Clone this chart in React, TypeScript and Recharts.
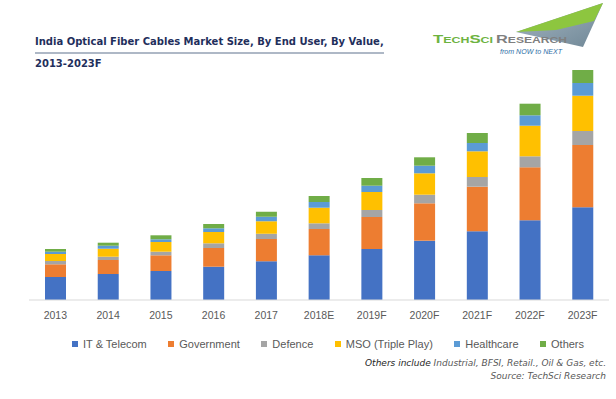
import { BarChart, Bar, XAxis, YAxis } from 'recharts';

// values (no value axis is shown, units are relative)
const years = ['2013', '2014', '2015', '2016', '2017', '2018E', '2019F', '2020F', '2021F', '2022F', '2023F'];
const itTelecom = [23, 26, 29, 33.3, 38.7, 44.7, 51, 59.3, 68.7, 79.7, 92.7];
const government = [12.7, 14, 15.7, 18.7, 22.3, 26.3, 32, 37.4, 44.6, 53, 62.3];
const defence = [3.3, 3.3, 3.6, 4.7, 5.3, 5.7, 7, 8.6, 9.7, 11, 14];
const mso = [7, 8, 9.7, 11.3, 12.4, 15.6, 18, 21.4, 25.7, 30.6, 35.3];
const healthcare = [2.3, 3, 2.7, 3.7, 4.6, 5.7, 6.3, 7.6, 8.3, 10.4, 12.7];
const others = [2.7, 3, 4, 4.3, 5, 6, 7.7, 8.4, 10, 11.6, 13];

const series = [
    { key: 'it', name: 'IT & Telecom', values: itTelecom, color: '#4472C4' },
    { key: 'gov', name: 'Government', values: government, color: '#ED7D31' },
    { key: 'def', name: 'Defence', values: defence, color: '#A5A5A5' },
    { key: 'mso', name: 'MSO (Triple Play)', values: mso, color: '#FFC000' },
    { key: 'health', name: 'Healthcare', values: healthcare, color: '#5B9BD5' },
    { key: 'others', name: 'Others', values: others, color: '#70AD47' },
];

const data = years.map((year, i) => {
    const row: Record<string, string | number> = { year };
    series.forEach(s => { row[s.key] = s.values[i]; });
    return row;
});

function Logo() {
    const big = 11.5;
    const small = 8.5;
    return (
        <svg width={616} height={80} style={{ position: 'absolute', left: 0, top: 0 }}>
            <defs>
                <linearGradient id="swoosh" x1="0" y1="0" x2="1" y2="1">
                    <stop offset="0%" stopColor="#a8b8c4" />
                    <stop offset="100%" stopColor="#6f8796" />
                </linearGradient>
            </defs>
            <polygon points="516,32 603,3 583,47" fill="url(#swoosh)" />
            <polygon points="516,32 603,3 594,21 556,30" fill="#8DC63F" />
            <text x={433} y={43} fontFamily="Liberation Sans" fontWeight="bold" fill="#6DB33F"
                textLength={60} lengthAdjust="spacingAndGlyphs">
                <tspan fontSize={big}>T</tspan><tspan fontSize={small}>ECH</tspan>
                <tspan fontSize={big}>S</tspan><tspan fontSize={small}>CI</tspan>
            </text>
            <text x={496} y={43} fontFamily="Liberation Sans" fontWeight="bold" fill="#7F7F7F"
                textLength={71} lengthAdjust="spacingAndGlyphs">
                <tspan fontSize={big}>R</tspan><tspan fontSize={small}>ESEARCH</tspan>
            </text>
            <text x={500} y={54} fontFamily="Liberation Sans" fontStyle="italic" fontSize={7.5}
                fill="#2F6FA8" textLength={62} lengthAdjust="spacingAndGlyphs">from NOW to NEXT</text>
        </svg>
    );
}

export default function App() {
    return (
        <div style={{ position: 'absolute', left: 0, top: 0, width: 616, height: 399, background: '#fff', overflow: 'hidden' }}>
            <div style={{ position: 'absolute', left: 35, top: 36, fontFamily: 'DejaVu Sans', fontWeight: 'bold', fontSize: 10, lineHeight: '12px', color: '#1F2F5C' }}>
                <div style={{ borderBottom: '2px solid #AEB8C6', paddingBottom: 4, display: 'inline-block', whiteSpace: 'nowrap' }}>
                    India Optical Fiber Cables Market Size, By End User, By Value,
                </div>
                <div style={{ marginTop: 4 }}>2013-2023F</div>
            </div>
            <Logo />
            <BarChart width={616} height={330} data={data} margin={{ top: 60, right: 7, left: 29, bottom: 0 }}>
                <YAxis hide domain={[0, 240]} />
                <XAxis dataKey="year" height={30} tickLine={false} tickMargin={6}
                    axisLine={{ stroke: '#D9D9D9' }} interval={0}
                    tick={{ fontSize: 10.5, fill: '#595959', fontFamily: 'Liberation Sans' }} />
                {series.map(s => (
                    <Bar key={s.key} dataKey={s.key} name={s.name} stackId="a" fill={s.color}
                        barSize={21} isAnimationActive={false} />
                ))}
            </BarChart>
            <div style={{ position: 'absolute', left: 72, top: 336, display: 'flex', whiteSpace: 'nowrap', fontFamily: 'Liberation Sans', fontSize: 11, color: '#595959', lineHeight: '16px' }}>
                {series.map(s => (
                    <div key={s.key} style={{ display: 'flex', alignItems: 'center', marginRight: 21.5, flexShrink: 0 }}>
                        <span style={{ width: 6, height: 6, background: s.color, marginRight: 5, display: 'inline-block' }} />
                        {s.name}
                    </div>
                ))}
            </div>
            <div style={{ position: 'absolute', right: 10, top: 357, textAlign: 'right', whiteSpace: 'nowrap', fontFamily: 'DejaVu Sans', fontStyle: 'italic', fontSize: 9, lineHeight: '12.5px', color: '#595959' }}>
                <div><span style={{ color: '#262626' }}>Others include</span> Industrial, BFSI, Retail., Oil &amp; Gas, etc.</div>
                <div>Source: TechSci Research</div>
            </div>
        </div>
    );
}
